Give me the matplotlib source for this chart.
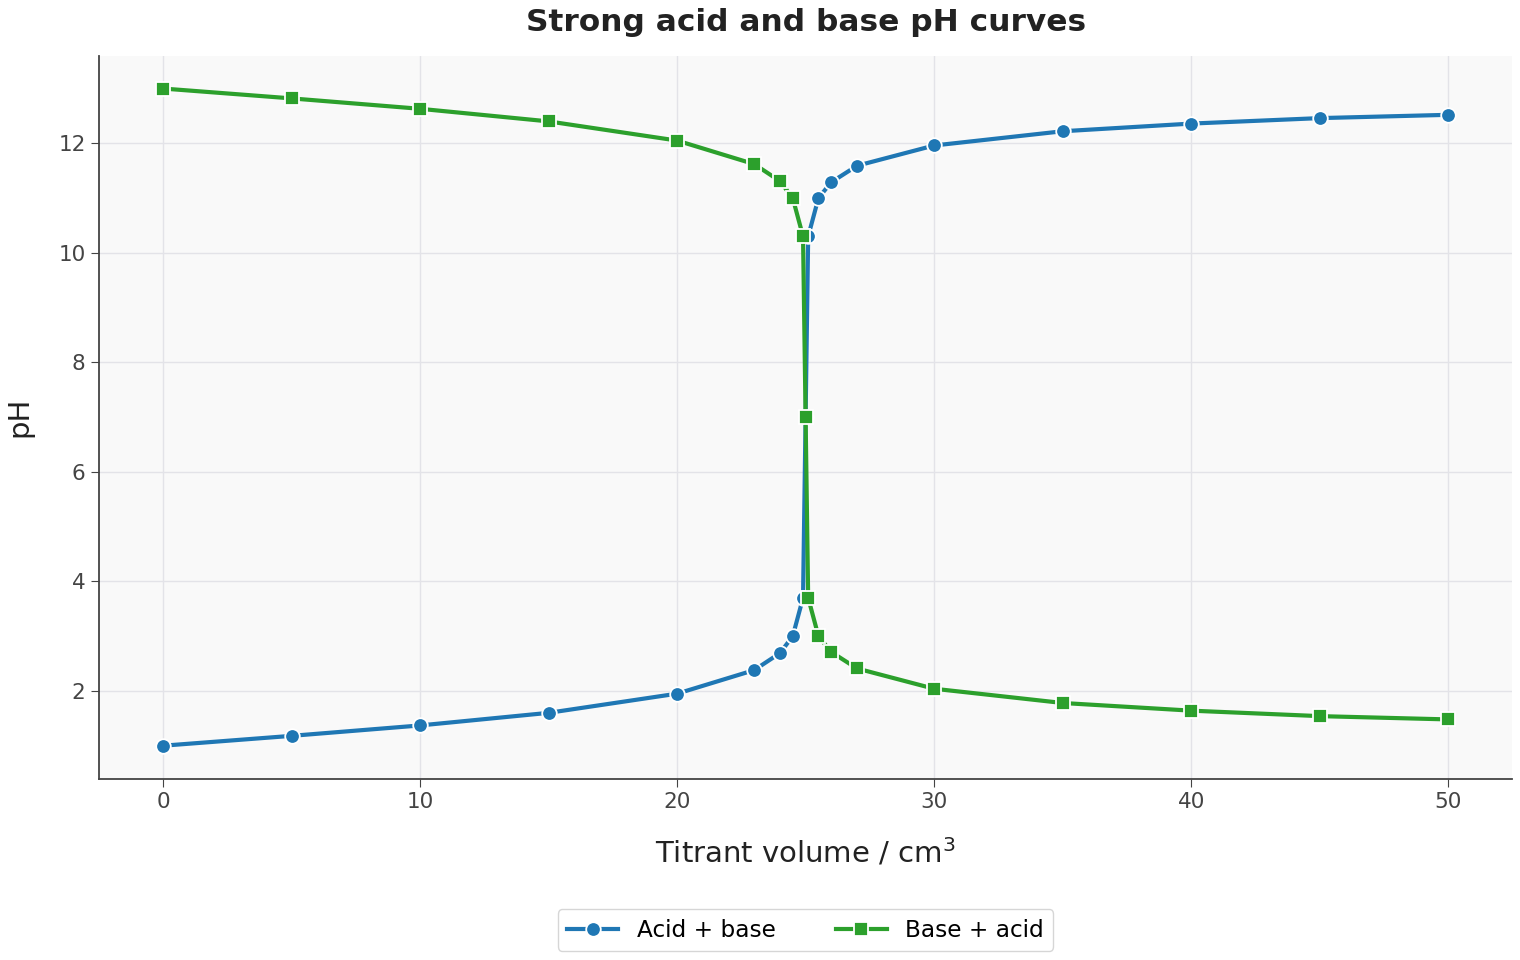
import matplotlib
matplotlib.use("Agg")
import matplotlib.pyplot as plt

# titrant volume (cm3)
volume = [0, 5, 10, 15, 20, 23, 24, 24.5, 24.9, 25, 25.1, 25.5, 26, 27, 30, 35, 40, 45, 50]

# pH readings
acid_base = [1.00, 1.18, 1.37, 1.60, 1.95, 2.38, 2.69, 3.00, 3.70, 7.00,
             10.30, 11.00, 11.29, 11.59, 11.96, 12.22, 12.36, 12.46, 12.52]
base_acid = [13.00, 12.82, 12.63, 12.40, 12.05, 11.62, 11.31, 11.00, 10.30, 7.00,
             3.70, 3.00, 2.71, 2.41, 2.04, 1.78, 1.64, 1.54, 1.48]

fig = plt.figure(figsize=(15.2, 9.6), dpi=100)
ax = fig.add_axes([0.065, 0.189, 0.93, 0.753])
ax.set_facecolor('#f9f9f9')

ax.plot(volume, acid_base, color='#1f77b4', lw=3, marker='o', ms=10.5,
        mec='white', mew=1.3, label='Acid + base')
ax.plot(volume, base_acid, color='#2ca02c', lw=3, marker='s', ms=10.5,
        mec='white', mew=1.3, label='Base + acid')

ax.grid(True, color='#e3e3e8', lw=1)
ax.set_axisbelow(True)
ax.spines[['top', 'right']].set_visible(False)
for s in ['left', 'bottom']:
    ax.spines[s].set_color('#444444')
    ax.spines[s].set_linewidth(1.3)

ax.tick_params(labelsize=15.5, colors='#444444', length=6)
ax.set_xlabel('Titrant volume / cm$^3$', fontsize=21, color='#222222', labelpad=18)
ax.set_ylabel('pH', fontsize=21, color='#222222', labelpad=18)
ax.set_title('Strong acid and base pH curves', fontsize=22.5, fontweight='bold',
             color='#222222', pad=18)

ax.legend(loc='upper center', bbox_to_anchor=(0.5, -0.165), ncol=2, fontsize=16.7,
          frameon=True, edgecolor='#cccccc', columnspacing=2.6, handlelength=2.2)

fig.savefig('out.png', dpi=100)
